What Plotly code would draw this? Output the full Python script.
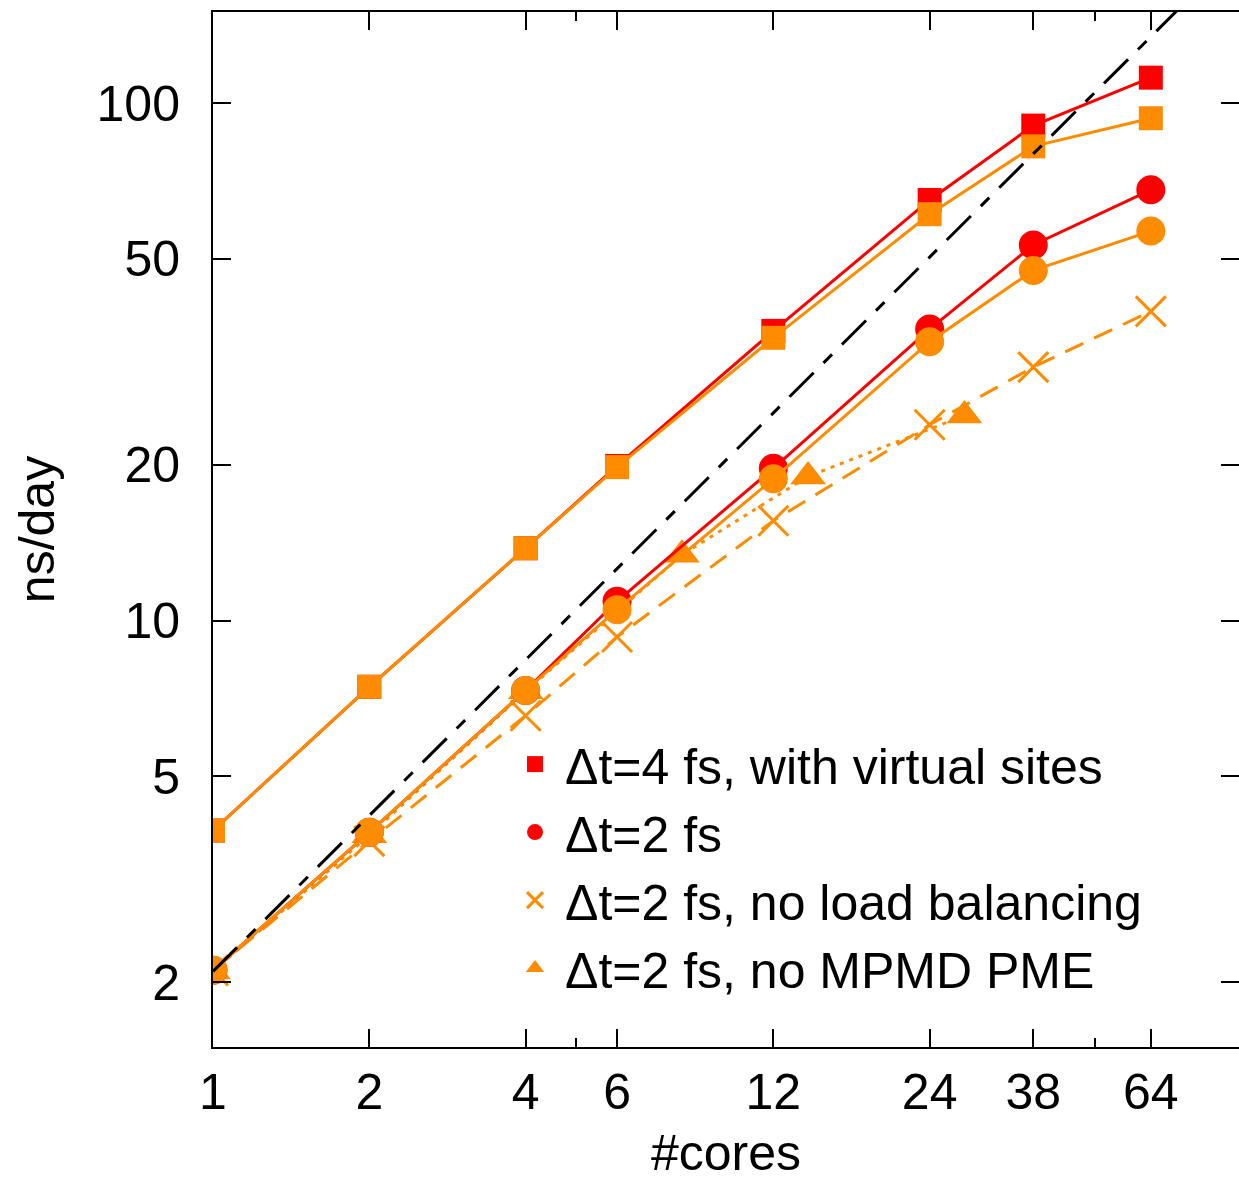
import plotly.graph_objects as go

# ---- data ----
cores = [1, 2, 4, 6, 12, 24, 38, 64]
dt4_vsites_red = [3.93, 7.45, 13.8, 19.9, 36.3, 65.0, 90.5, 112.0]
dt4_vsites_orange = [3.93, 7.45, 13.8, 19.8, 35.2, 61.0, 82.5, 93.5]
dt2_red = [2.11, 3.9, 7.33, 10.9, 19.7, 36.6, 53.2, 68.0]
dt2_orange = [2.11, 3.9, 7.33, 10.5, 18.8, 34.6, 47.5, 56.6]
dt2_no_lb = [2.11, 3.75, 6.55, 9.3, 15.6, 23.9, 30.9, 39.6]
mpmd_cores = [1, 2, 4, 8, 14, 28]
dt2_no_mpmd = [2.1, 3.85, 7.3, 13.4, 19.0, 24.9]
ideal_cores = [1, 100]
ideal = [2.1, 210.0]

x_tickvals = [1, 2, 4, 6, 12, 24, 38, 64]
x_minor = [5, 50]
y_tickvals = [2, 5, 10, 20, 50, 100]

legend_names = [
    "Δt=4 fs, with virtual sites",
    "Δt=2 fs",
    "Δt=2 fs, no load balancing",
    "Δt=2 fs, no MPMD PME",
]

RED = "#FF0000"
ORANGE = "#FF8C00"
FONT = "Liberation Sans, Arial, Helvetica, sans-serif"

fig = go.Figure()

# no MPMD PME (dotted, triangles)
fig.add_trace(go.Scatter(x=mpmd_cores, y=dt2_no_mpmd, mode="lines+markers",
                         line=dict(color=ORANGE, width=3, dash="4px,6px"),
                         marker=dict(symbol="triangle-up", size=31, color=ORANGE),
                         showlegend=False))
# no load balancing (dashed, x)
fig.add_trace(go.Scatter(x=cores, y=dt2_no_lb, mode="lines+markers",
                         line=dict(color=ORANGE, width=3, dash="20px,12px"),
                         marker=dict(symbol="x-thin", size=30, color=ORANGE,
                                     line=dict(color=ORANGE, width=3)),
                         showlegend=False))
fig.add_trace(go.Scatter(x=cores, y=dt4_vsites_red, mode="lines+markers",
                         line=dict(color=RED, width=3),
                         marker=dict(symbol="square", size=24, color=RED),
                         showlegend=False))
fig.add_trace(go.Scatter(x=cores, y=dt2_red, mode="lines+markers",
                         line=dict(color=RED, width=3),
                         marker=dict(symbol="circle", size=29, color=RED),
                         showlegend=False))
fig.add_trace(go.Scatter(x=cores, y=dt4_vsites_orange, mode="lines+markers",
                         line=dict(color=ORANGE, width=3),
                         marker=dict(symbol="square", size=24, color=ORANGE),
                         showlegend=False))
fig.add_trace(go.Scatter(x=cores, y=dt2_orange, mode="lines+markers",
                         line=dict(color=ORANGE, width=3),
                         marker=dict(symbol="circle", size=29, color=ORANGE),
                         showlegend=False))
# ideal scaling
fig.add_trace(go.Scatter(x=ideal_cores, y=ideal, mode="lines",
                         line=dict(color="black", width=3, dash="34px,14px,12px,14px"),
                         showlegend=False))

# legend-only entries (markers only)
legend_styles = [
    dict(symbol="square", size=20, color=RED),
    dict(symbol="circle", size=24, color=RED),
    dict(symbol="x-thin", size=22, color=ORANGE, line=dict(color=ORANGE, width=3)),
    dict(symbol="triangle-up", size=22, color=ORANGE),
]
for i, (name, mk) in enumerate(zip(legend_names, legend_styles)):
    fig.add_trace(go.Scatter(x=[None], y=[None], mode="markers", name=name,
                             marker=mk, legendgroup=f"g{i}", showlegend=True))

fig.update_layout(
    width=1239, height=1181,
    margin=dict(l=213, r=0, t=12, b=134),
    paper_bgcolor="white", plot_bgcolor="white",
    font=dict(family=FONT, size=50, color="black"),
    showlegend=True,
    legend=dict(x=0.2846, y=0.311, xanchor="left", yanchor="top",
                bgcolor="rgba(0,0,0,0)", borderwidth=0,
                itemwidth=50, itemsizing="trace", tracegroupgap=0,
                font=dict(family=FONT, size=50, color="black")),
)

fig.update_xaxes(type="log", range=[0, 1.976], automargin=False,
                 tickmode="array", tickvals=x_tickvals,
                 ticktext=[str(v) for v in x_tickvals],
                 ticks="inside", ticklen=18, tickwidth=1.5, tickcolor="black",
                 minor=dict(tickmode="array", tickvals=x_minor, ticks="inside",
                            ticklen=9, tickwidth=1.5, tickcolor="black"),
                 showline=True, linecolor="black", linewidth=2, mirror="allticks",
                 showgrid=False, zeroline=False,
                 ticklabelstandoff=0,
                 title=dict(text="#cores", standoff=36, font=dict(size=50)))

fig.update_yaxes(type="log", range=[0.1761, 2.1761], automargin=False,
                 tickmode="array", tickvals=y_tickvals,
                 ticktext=[str(v) for v in y_tickvals],
                 ticks="inside", ticklen=18, tickwidth=1.5, tickcolor="black",
                 showline=True, linecolor="black", linewidth=2, mirror="ticks",
                 showgrid=False, zeroline=False,
                 ticklabelstandoff=21,
                 title=dict(text="ns/day", standoff=26, font=dict(size=50)))

fig.write_html("out.html")
